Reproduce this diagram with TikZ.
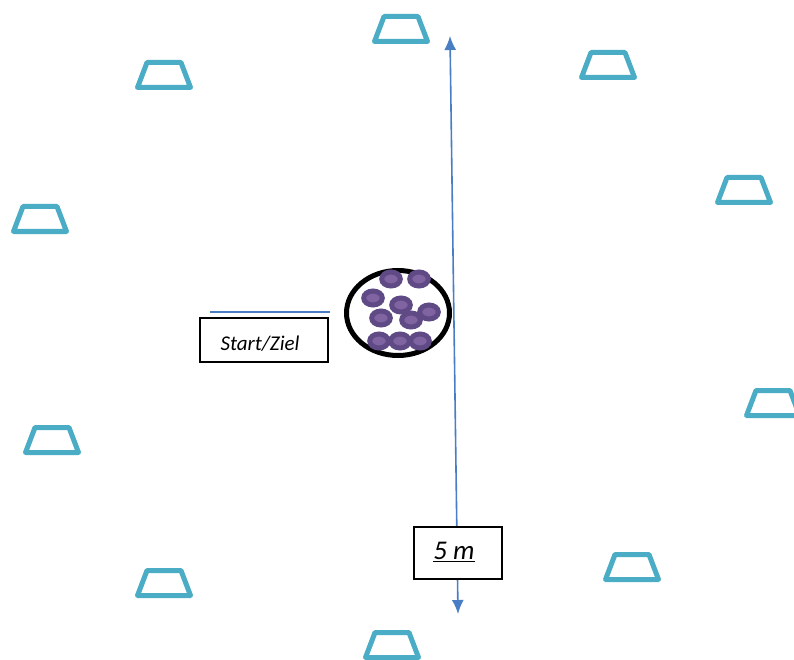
\documentclass[tikz,border=0pt]{standalone}
\usepackage{fontspec}
\setmainfont{Carlito}
\usetikzlibrary{arrows.meta}
\definecolor{conec}{HTML}{4BACC6}
\definecolor{arrc}{HTML}{4A7EC4}
\definecolor{blobout}{HTML}{5F4A86}
\definecolor{blobin}{HTML}{8064A2}
\tikzset{
  conestyle/.style={draw=conec, line width=5pt, line join=round},
  pics/cone/.style={code={\draw[conestyle] (-26.5,12.5) -- (-17,-12.5) -- (17,-12.5) -- (26.5,12.5) -- cycle;}},
  pics/blob/.style={code={\draw[blobout, fill=blobin, line width=5pt] (0,0) ellipse (9.3 and 7);}},
  labelbox/.style={draw, line width=1.3pt, fill=white, inner sep=0pt, font=\itshape},
  arrline/.style={draw=arrc, line width=1.6pt},
}
\begin{document}
\begin{tikzpicture}[x=1pt,y=-1pt]
\useasboundingbox (0,0) rectangle (794,660);
\clip (0,0) rectangle (794,660);
% cones
\pic at (401,29) {cone};
\pic at (164,75) {cone};
\pic at (608,65) {cone};
\pic at (744,190) {cone};
\pic at (40,219) {cone};
\pic at (773,403) {cone};
\pic at (52,440) {cone};
\pic at (164,583) {cone};
\pic at (632,567) {cone};
\pic at (392,645) {cone};
% arrow
\coordinate (atop) at (450,36);
\coordinate (abot) at (458,614);
\draw[arrline, {Latex[length=14pt,width=12pt]}-{Latex[length=14pt,width=12pt]}] (abot) -- (atop);
% 5 m box
\node[labelbox, minimum width=88pt, minimum height=52pt] (dist) at (458,553) {};
\node[font=\itshape\fontsize{27}{32}\selectfont, inner sep=0pt] (distt) at (454,552) {\underline{5 m}};
% start line and box
\coordinate (sl) at (210,312);
\coordinate (sr) at (330,312);
\draw[arrline] (sl) -- (sr);
\node[labelbox, minimum width=128pt, minimum height=44pt] (start) at (264,340) {};
\node[font=\itshape\fontsize{21}{25}\selectfont, inner sep=0pt] (startt) at (260,344) {Start/Ziel};
% ball basket
\draw[line width=5pt] (398,313) ellipse (51.5 and 42.5);
\foreach \p in {(391,279),(419,279),(373,298),(401,305),(381,318),(429,312),(411,320),(379,341),(400,341),(420,341)}
  \pic at \p {blob};
\end{tikzpicture}
\end{document}
